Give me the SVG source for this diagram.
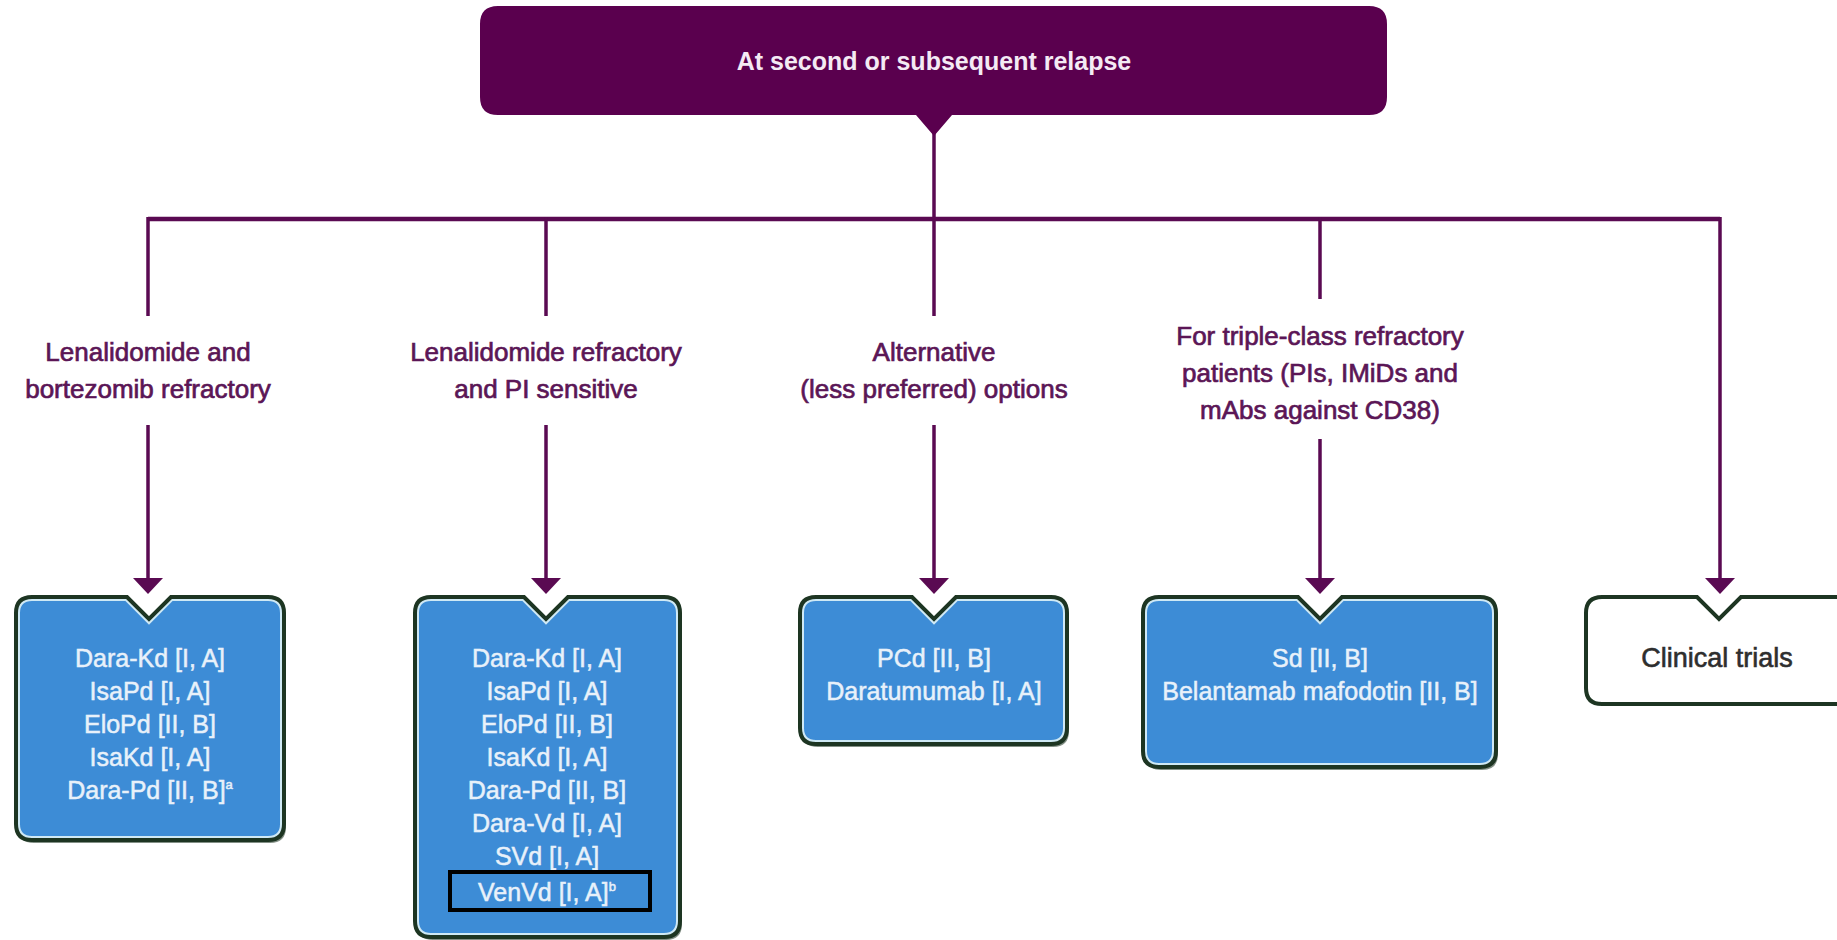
<svg xmlns="http://www.w3.org/2000/svg" xmlns:xlink="http://www.w3.org/1999/xlink" width="1837" height="940" viewBox="0 0 1837 940">
<style>
.lbl{font-family:"Liberation Sans",Arial,sans-serif;font-size:26px;fill:#5b1656;stroke:#5b1656;stroke-width:0.7;text-anchor:middle}
.bt{font-family:"Liberation Sans",Arial,sans-serif;font-size:25px;fill:#e8f1fa;stroke:#e8f1fa;stroke-width:0.5;text-anchor:middle}
.sup{font-size:13px}
.conn{stroke:#5a0a52;stroke-width:3.5;fill:none}
.fill{fill:#3d8cd6}
.wfill{fill:#ffffff}
.inner{fill:none;stroke:#cfe9f5;stroke-width:8}
.outer{fill:none;stroke:#1d3522;stroke-width:4}
.shadow{fill:#1d3522;opacity:0.55}
</style>
<defs>
<marker id="ah" viewBox="0 -15 16 30" refX="7" refY="0" markerWidth="16" markerHeight="30" markerUnits="userSpaceOnUse" orient="auto">
<path d="M0,-15 L16,0 L0,15 Z" fill="#5a0a52"/>
</marker>
<path id="p1" d="M32,597 H127 L149,619 L171,597 H268 Q284,597 284,613 V824 Q284,840 268,840 H32 Q16,840 16,824 V613 Q16,597 32,597 Z"/>
<path id="p2" d="M431,597 H524 L546,619 L568,597 H664 Q680,597 680,613 V921 Q680,937 664,937 H431 Q415,937 415,921 V613 Q415,597 431,597 Z"/>
<path id="p3" d="M816,597 H912 L934,619 L956,597 H1051 Q1067,597 1067,613 V728 Q1067,744 1051,744 H816 Q800,744 800,728 V613 Q800,597 816,597 Z"/>
<path id="p4" d="M1159,597 H1298 L1320,619 L1342,597 H1480 Q1496,597 1496,613 V751 Q1496,767 1480,767 H1159 Q1143,767 1143,751 V613 Q1143,597 1159,597 Z"/>
<path id="p5" d="M1602,597 H1697 L1719,619 L1741,597 H1844 Q1860,597 1860,613 V688 Q1860,704 1844,704 H1602 Q1586,704 1586,688 V613 Q1586,597 1602,597 Z"/>
<clipPath id="c1"><use xlink:href="#p1"/></clipPath>
<clipPath id="c2"><use xlink:href="#p2"/></clipPath>
<clipPath id="c3"><use xlink:href="#p3"/></clipPath>
<clipPath id="c4"><use xlink:href="#p4"/></clipPath>
</defs>
<rect width="1837" height="940" fill="#ffffff"/>

<g id="connectors">
<line class="conn" x1="934" y1="130" x2="934" y2="316"/>
<line class="conn" x1="148" y1="219" x2="1720" y2="219" style="stroke-width:4.5"/>
<line class="conn" x1="148" y1="217" x2="148" y2="316"/>
<line class="conn" x1="546" y1="217" x2="546" y2="316"/>
<line class="conn" x1="1320" y1="217" x2="1320" y2="299"/>
<line class="conn" x1="1720" y1="217" x2="1720" y2="585" marker-end="url(#ah)"/>
<line class="conn" x1="148" y1="425" x2="148" y2="585" marker-end="url(#ah)"/>
<line class="conn" x1="546" y1="425" x2="546" y2="585" marker-end="url(#ah)"/>
<line class="conn" x1="934" y1="425" x2="934" y2="585" marker-end="url(#ah)"/>
<line class="conn" x1="1320" y1="439" x2="1320" y2="585" marker-end="url(#ah)"/>
</g>

<g id="top">
<path d="M498,6 H1369 Q1387,6 1387,24 V97 Q1387,115 1369,115 H952 L934,136 L916,115 H498 Q480,115 480,97 V24 Q480,6 498,6 Z" fill="#5a004e"/>
<text x="934" y="70" style="font-family:'Liberation Sans',Arial,sans-serif;font-size:25px;font-weight:bold;fill:#f4eaf4;text-anchor:middle">At second or subsequent relapse</text>
</g>

<g id="label1">
<text class="lbl" x="148" y="361">Lenalidomide and</text>
<text class="lbl" x="148" y="398">bortezomib refractory</text>
</g>
<g id="label2">
<text class="lbl" x="546" y="361">Lenalidomide refractory</text>
<text class="lbl" x="546" y="398">and PI sensitive</text>
</g>
<g id="label3">
<text class="lbl" x="934" y="361">Alternative</text>
<text class="lbl" x="934" y="398">(less preferred) options</text>
</g>
<g id="label4">
<text class="lbl" x="1320" y="345">For triple-class refractory</text>
<text class="lbl" x="1320" y="382">patients (PIs, IMiDs and</text>
<text class="lbl" x="1320" y="419">mAbs against CD38)</text>
</g>

<g id="box1">
<use xlink:href="#p1" class="shadow" transform="translate(2,3)"/>
<use xlink:href="#p1" class="fill"/>
<use xlink:href="#p1" class="inner" clip-path="url(#c1)"/>
<use xlink:href="#p1" class="outer"/>
<text class="bt" x="150" y="667">Dara-Kd [I, A]</text>
<text class="bt" x="150" y="700">IsaPd [I, A]</text>
<text class="bt" x="150" y="733">EloPd [II, B]</text>
<text class="bt" x="150" y="766">IsaKd [I, A]</text>
<text class="bt" x="150" y="799">Dara-Pd [II, B]<tspan class="sup" dy="-10">a</tspan></text>
</g>

<g id="box2">
<use xlink:href="#p2" class="shadow" transform="translate(2,3)"/>
<use xlink:href="#p2" class="fill"/>
<use xlink:href="#p2" class="inner" clip-path="url(#c2)"/>
<use xlink:href="#p2" class="outer"/>
<text class="bt" x="547" y="667">Dara-Kd [I, A]</text>
<text class="bt" x="547" y="700">IsaPd [I, A]</text>
<text class="bt" x="547" y="733">EloPd [II, B]</text>
<text class="bt" x="547" y="766">IsaKd [I, A]</text>
<text class="bt" x="547" y="799">Dara-Pd [II, B]</text>
<text class="bt" x="547" y="832">Dara-Vd [I, A]</text>
<text class="bt" x="547" y="865">SVd [I, A]</text>
<text class="bt" x="547" y="901">VenVd [I, A]<tspan class="sup" dy="-10">b</tspan></text>
<rect x="450" y="872" width="200" height="38" fill="none" stroke="#000000" stroke-width="4"/>
</g>

<g id="box3">
<use xlink:href="#p3" class="shadow" transform="translate(2,3)"/>
<use xlink:href="#p3" class="fill"/>
<use xlink:href="#p3" class="inner" clip-path="url(#c3)"/>
<use xlink:href="#p3" class="outer"/>
<text class="bt" x="934" y="667">PCd [II, B]</text>
<text class="bt" x="934" y="700">Daratumumab [I, A]</text>
</g>

<g id="box4">
<use xlink:href="#p4" class="shadow" transform="translate(2,3)"/>
<use xlink:href="#p4" class="fill"/>
<use xlink:href="#p4" class="inner" clip-path="url(#c4)"/>
<use xlink:href="#p4" class="outer"/>
<text class="bt" x="1320" y="667">Sd [II, B]</text>
<text class="bt" x="1320" y="700">Belantamab mafodotin [II, B]</text>
</g>

<g id="box5">
<use xlink:href="#p5" class="wfill"/>
<use xlink:href="#p5" class="outer"/>
<text x="1717" y="667" style="font-family:'Liberation Sans',Arial,sans-serif;font-size:27px;fill:#2e2e2e;stroke:#2e2e2e;stroke-width:0.6;text-anchor:middle">Clinical trials</text>
</g>
</svg>
